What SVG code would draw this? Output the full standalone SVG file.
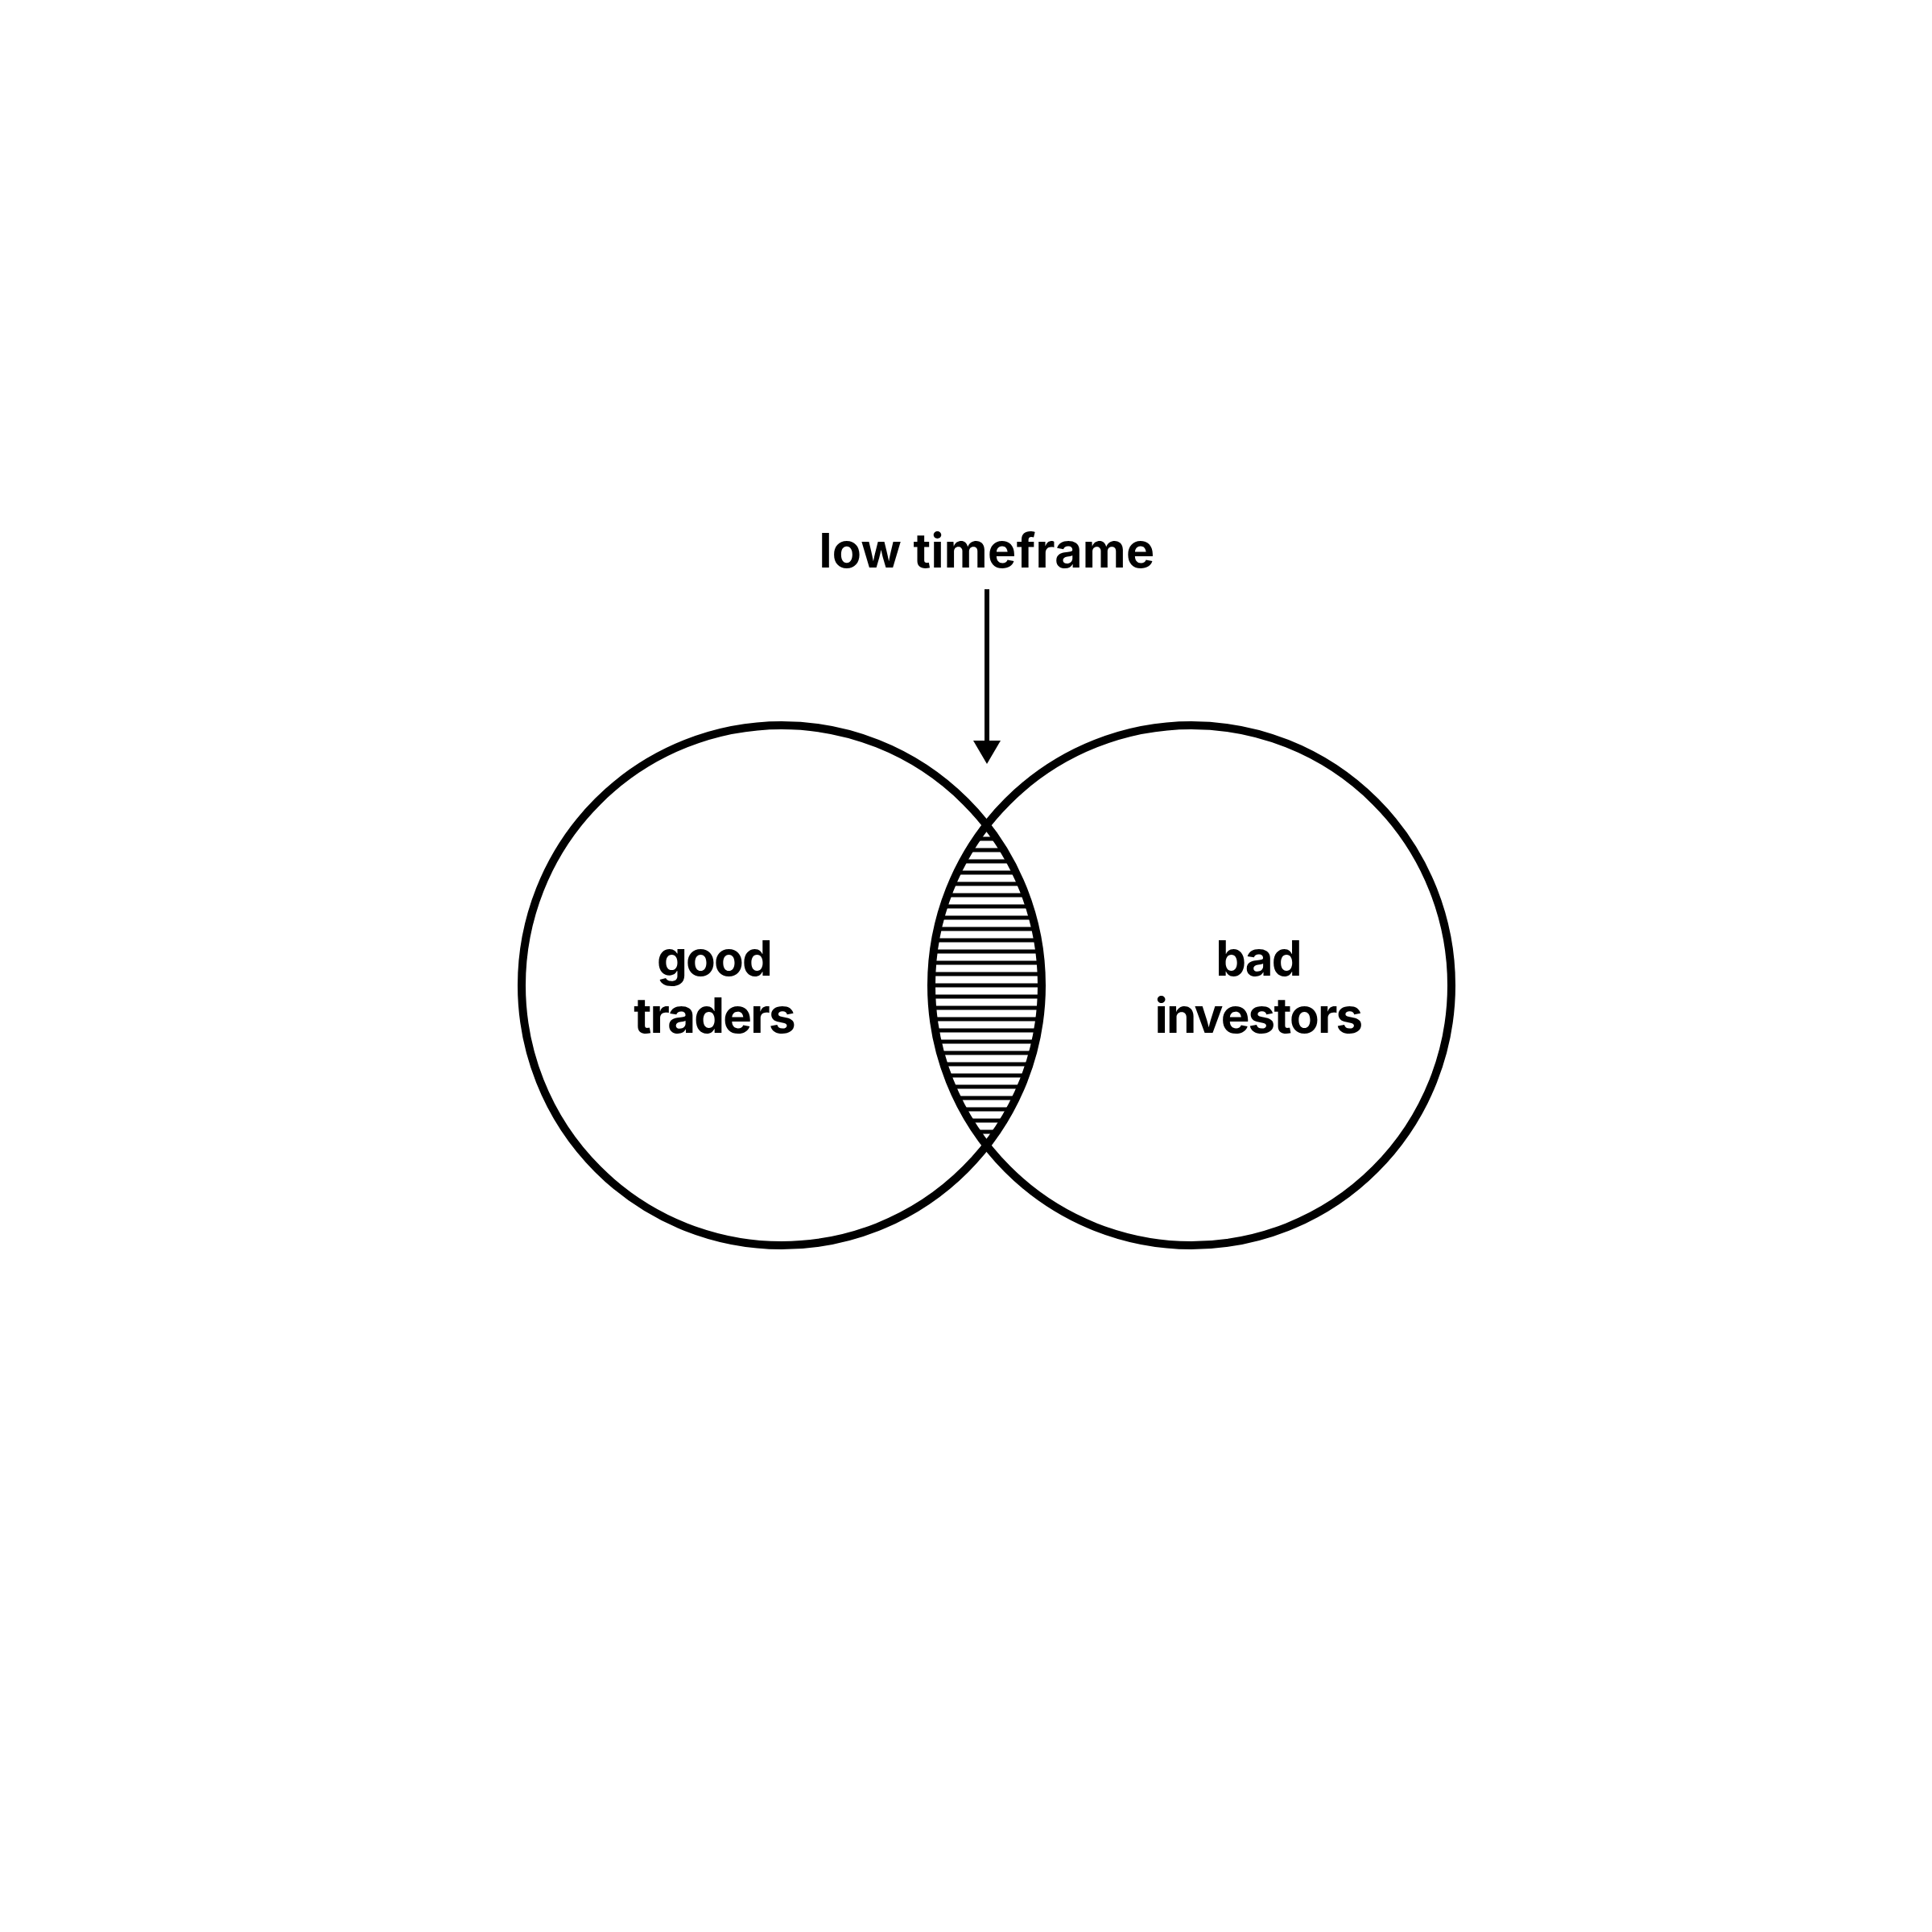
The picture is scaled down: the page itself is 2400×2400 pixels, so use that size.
<svg xmlns="http://www.w3.org/2000/svg" width="2400" height="2400" viewBox="0 0 2400 2400">
<style>
.lbl{font-family:Inter,"Noto Sans","Liberation Sans",sans-serif;font-weight:700;font-size:60px;fill:#000;text-anchor:middle;letter-spacing:-1.8px}
.top{font-size:59px;letter-spacing:0.4px}
.ring{fill:none;stroke:#000;stroke-width:10}
</style>
<defs>
<pattern id="hatch" patternUnits="userSpaceOnUse" x="0" y="0" width="40" height="14">
<rect x="0" y="3.5" width="40" height="5" fill="#000"/>
</pattern>
</defs>
<rect width="2400" height="2400" fill="#fff"/>
<g id="intersection">
<path d="M1225.5,1025.1 A323,323 0 0 1 1225.5,1422.9 A323,323 0 0 1 1225.5,1025.1 Z" fill="url(#hatch)"/>
</g>
<g id="good-traders">
<circle class="ring" cx="971" cy="1224" r="323"/>
<text class="lbl" x="887" y="1212">good</text>
<text class="lbl" x="887" y="1283">traders</text>
</g>
<g id="bad-investors">
<circle class="ring" cx="1480" cy="1224" r="323"/>
<text class="lbl" x="1563" y="1212">bad</text>
<text class="lbl" x="1563" y="1283">investors</text>
</g>
<g id="label-low-timeframe">
<text class="lbl top" x="1226" y="705">low timeframe</text>
</g>
<g id="connectors">
<line x1="1226" y1="732" x2="1226" y2="920" stroke="#000" stroke-width="6"/>
<path d="M1209,920 L1243,920 L1226,949 Z" fill="#000"/>
</g>
</svg>
